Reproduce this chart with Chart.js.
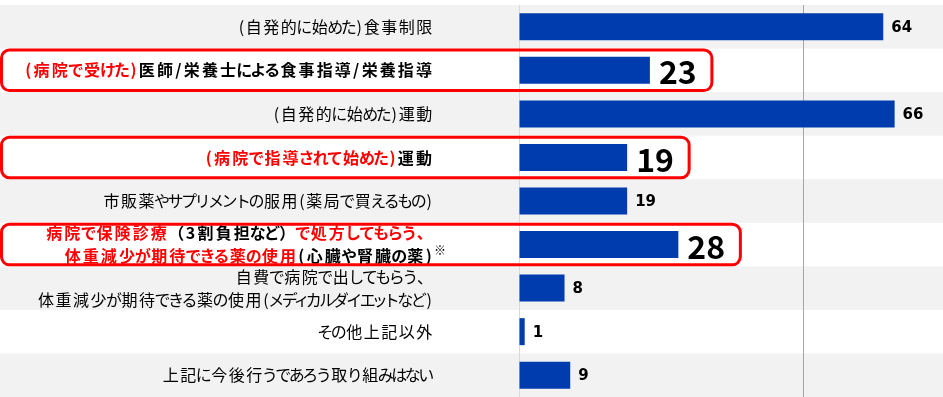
<!DOCTYPE html>
<html><head><meta charset="utf-8">
<script src="https://cdn.jsdelivr.net/npm/chart.js@4"></script>
<style>html,body{margin:0;padding:0;background:#fff;overflow:hidden}#wrap{width:943px;height:397px;position:relative}</style>
</head><body><div id="wrap"><canvas id="c"></canvas></div>
<script>
const categories = [
  ["(自発的に始めた)食事制限"],
  ["(病院で受けた)医師/栄養士による食事指導/栄養指導"],
  ["(自発的に始めた)運動"],
  ["(病院で指導されて始めた)運動"],
  ["市販薬やサプリメントの服用(薬局で買えるもの)"],
  ["病院で保険診療（3割負担など）で処方してもらう、", "体重減少が期待できる薬の使用(心臓や腎臓の薬)※"],
  ["自費で病院で出してもらう、", "体重減少が期待できる薬の使用(メディカルダイエットなど)"],
  ["その他上記以外"],
  ["上記に今後行うであろう取り組みはない"]
];
const values = [64, 23, 66, 19, 19, 28, 8, 1, 9];
const emphasizedRows = [1, 3, 5];
const redPhrases = ["(病院で受けた)", "(病院で指導されて始めた)", "病院で保険診療", "で処方してもらう、", "体重減少が期待できる薬の使用"];
const xTicks = [0, 50];

const FONT = '"Noto Sans CJK JP", "Noto Sans", sans-serif';
const LABEL_RIGHT = 433;
const SMALL_KANA = 'ぁぃぅぇぉっゃゅょァィゥェォッャュョ';

function segmentsFor(line, emph){
  let segs = [{t: line, red: false}];
  if (!emph) return segs;
  redPhrases.forEach(p => {
    const out = [];
    segs.forEach(s => {
      if (s.red) { out.push(s); return; }
      const parts = s.t.split(p);
      parts.forEach((pt, k) => {
        if (pt) out.push({t: pt, red: false});
        if (k < parts.length - 1) out.push({t: p, red: true});
      });
    });
    segs = out;
  });
  return segs;
}

// Advance of one character, imitating the proportional Japanese typesetting of the original
function advance(ctx, ch, bold){
  const w = ctx.measureText(ch).width;
  const extra = bold ? 0.6 : 0;
  const c = ch.charCodeAt(0);
  if (SMALL_KANA.includes(ch)) return 10.5 + extra;
  if (c >= 0x3040 && c <= 0x30FF) return 13.5 + extra;
  if ((c >= 0x4E00 && c <= 0x9FFF) || ch === '々') return 17.5 + extra;
  if (c < 0x80) return w + 2 + extra;
  return w + extra;
}
function textWidth(ctx, s, bold){
  let t = 0;
  for (const ch of s) t += advance(ctx, ch, bold);
  return t;
}
function drawText(ctx, s, x, y, bold){
  for (const ch of s) {
    const a = advance(ctx, ch, bold);
    const w = ctx.measureText(ch).width;
    ctx.fillText(ch, x + (a - w) / 2, y);
    x += a;
  }
  return x;
}

const stripes = {
  id: 'stripes',
  beforeDraw(chart){
    const ctx = chart.ctx, ys = chart.scales.y;
    const half = Math.abs(ys.getPixelForValue(1) - ys.getPixelForValue(0)) / 2;
    ctx.save();
    ctx.fillStyle = '#F2F2F2';
    categories.forEach((c, i) => {
      if (i % 2 === 0) {
        const yc = ys.getPixelForValue(i);
        ctx.fillRect(0, yc - half, chart.width, half * 2);
      }
    });
    ctx.restore();
  }
};

const labels = {
  id: 'labels',
  afterDatasetsDraw(chart){
    const ctx = chart.ctx, ys = chart.scales.y;
    const meta = chart.getDatasetMeta(0);
    ctx.save();
    // value labels
    meta.data.forEach((bar, i) => {
      const big = emphasizedRows.includes(i);
      ctx.font = big ? 'bold 32px ' + FONT : 'bold 15px "DejaVu Sans"';
      ctx.fillStyle = '#000';
      ctx.textBaseline = 'middle';
      ctx.textAlign = 'left';
      ctx.fillText(String(values[i]), bar.x + (big ? 9 : 8), bar.y + (big ? 2 : 1));
    });
    // category labels
    categories.forEach((lines, i) => {
      const emph = emphasizedRows.includes(i);
      const yc = ys.getPixelForValue(i);
      const lh = 23;
      lines.forEach((line, li) => {
        const y = yc + (li - (lines.length - 1) / 2) * lh;
        let note = '';
        let text = line;
        if (text.endsWith('※')) { note = '※'; text = text.slice(0, -1); }
        const segs = segmentsFor(text, emph);
        ctx.font = (emph ? 'bold ' : '') + '16px ' + FONT;
        ctx.textBaseline = 'middle';
        ctx.textAlign = 'left';
        const total = segs.reduce((a, s) => a + textWidth(ctx, s.t, emph), 0);
        let x = LABEL_RIGHT - total;
        segs.forEach(s => {
          ctx.fillStyle = s.red ? '#FF0000' : '#000';
          x = drawText(ctx, s.t, x, y, emph);
        });
        if (note) {
          ctx.font = '12px ' + FONT;
          ctx.fillStyle = '#000';
          ctx.fillText(note, x + 1, y - 6);
        }
      });
    });
    // red frames
    const half = Math.abs(ys.getPixelForValue(1) - ys.getPixelForValue(0)) / 2;
    ctx.strokeStyle = '#FF0000';
    ctx.lineWidth = 3;
    emphasizedRows.forEach(i => {
      const bar = meta.data[i];
      const top = bar.y - half + 1.5, bottom = bar.y + half - 1.5;
      const left = 1.5, right = bar.x + 62;
      ctx.beginPath();
      ctx.roundRect(left, top, right - left, bottom - top, 8);
      ctx.stroke();
    });
    ctx.restore();
  }
};

new Chart(document.getElementById('c'), {
  type: 'bar',
  data: {
    labels: categories.map(l => l.join('')),
    datasets: [{
      data: values,
      backgroundColor: '#003CAE',
      borderWidth: 0,
      barPercentage: 0.62,
      categoryPercentage: 1
    }]
  },
  options: {
    indexAxis: 'y',
    responsive: true,
    maintainAspectRatio: false,
    animation: false,
    devicePixelRatio: 1,
    layout: {padding: {left: 519, top: 5, right: 0, bottom: 0}},
    scales: {
      x: {
        min: 0, max: 74.5,
        afterBuildTicks(scale){ scale.ticks = xTicks.map(v => ({value: v})); },
        ticks: {display: false},
        border: {display: false},
        grid: {
          drawTicks: false,
          lineWidth: 1,
          color: ctx => (ctx.tick && ctx.tick.value === 0) ? '#D9D9D9' : '#A6A6A6'
        }
      },
      y: {display: false}
    },
    plugins: {legend: {display: false}, tooltip: {enabled: false}}
  },
  plugins: [stripes, labels]
});
</script>
</body></html>
